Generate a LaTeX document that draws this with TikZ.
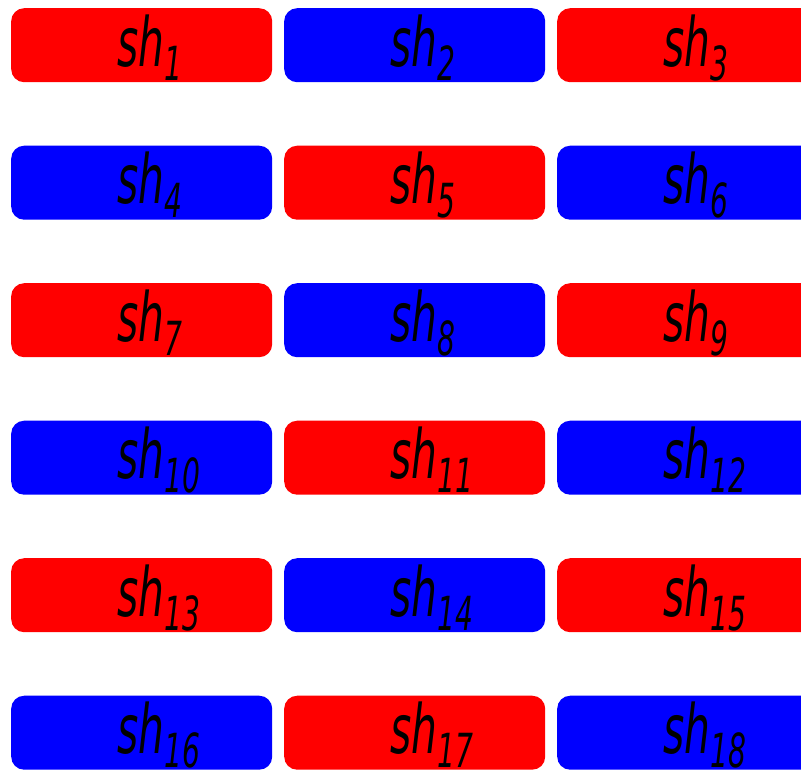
\documentclass[tikz,border=0pt]{standalone}
\usepackage{fontspec}
\usepackage{graphicx}
\newfontfamily\dv{DejaVu Sans}
\tikzset{
  shbox/.style={draw=none, rounded corners=13pt, minimum width=261pt, minimum height=74pt, inner sep=0pt, anchor=north west},
  shlabel/.style={anchor=base west, inner sep=0pt, text=black}
}
\newcommand\shtext[1]{\scalebox{0.6}[1]{\dv\itshape\fontsize{68}{70}\selectfont sh\raisebox{-14pt}{\fontsize{47}{49}\selectfont #1}}}
\begin{document}
\begin{tikzpicture}[x=1pt,y=-1pt]
\useasboundingbox (0,0) rectangle (801,769);
\clip (0,0) rectangle (801,769);
\foreach \r in {0,...,5}{
  \foreach \c in {0,1,2}{
    \pgfmathtruncatemacro\n{3*\r+\c+1}
    \pgfmathsetmacro\xx{11+273*\c}
    \pgfmathsetmacro\yy{8+137.5*\r}
    \ifodd\n \def\col{red}\else\def\col{blue}\fi
    \node[shbox, fill=\col] (b\n) at (\xx,\yy) {};
    \node[shlabel] (t\n) at (\xx+106,\yy+58) {\shtext{\n}};
  }
}
\end{tikzpicture}
\end{document}
